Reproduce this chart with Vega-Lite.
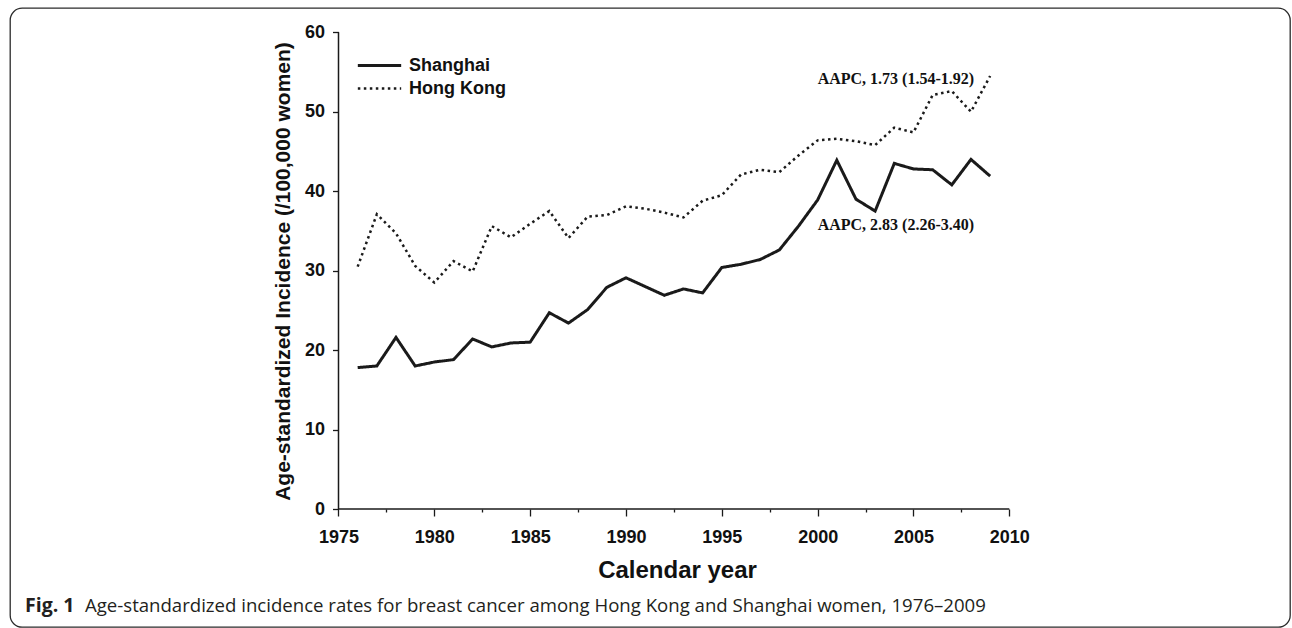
{
  "$schema": "https://vega.github.io/schema/vega-lite/v6.json",
  "width": 1280,
  "height": 619,
  "autosize": {"type": "none"},
  "padding": {"left": 10, "top": 8, "right": 2, "bottom": 1},
  "background": "white",
  "config": {
    "view": {"stroke": "#2b2b2b", "strokeWidth": 1.3, "cornerRadius": 12},
    "font": "Liberation Sans"
  },
  "datasets": {
    "rates": [
      {"year": 1976, "Shanghai": 17.8, "Hong Kong": 30.5},
      {"year": 1977, "Shanghai": 18.0, "Hong Kong": 37.1},
      {"year": 1978, "Shanghai": 21.6, "Hong Kong": 34.7},
      {"year": 1979, "Shanghai": 18.0, "Hong Kong": 30.6},
      {"year": 1980, "Shanghai": 18.5, "Hong Kong": 28.5},
      {"year": 1981, "Shanghai": 18.8, "Hong Kong": 31.2},
      {"year": 1982, "Shanghai": 21.4, "Hong Kong": 29.9},
      {"year": 1983, "Shanghai": 20.4, "Hong Kong": 35.6},
      {"year": 1984, "Shanghai": 20.9, "Hong Kong": 34.2},
      {"year": 1985, "Shanghai": 21.0, "Hong Kong": 35.9},
      {"year": 1986, "Shanghai": 24.7, "Hong Kong": 37.5},
      {"year": 1987, "Shanghai": 23.4, "Hong Kong": 34.1},
      {"year": 1988, "Shanghai": 25.1, "Hong Kong": 36.8},
      {"year": 1989, "Shanghai": 27.9, "Hong Kong": 37.0},
      {"year": 1990, "Shanghai": 29.1, "Hong Kong": 38.1},
      {"year": 1991, "Shanghai": 28.0, "Hong Kong": 37.8},
      {"year": 1992, "Shanghai": 26.9, "Hong Kong": 37.3},
      {"year": 1993, "Shanghai": 27.7, "Hong Kong": 36.7},
      {"year": 1994, "Shanghai": 27.2, "Hong Kong": 38.8},
      {"year": 1995, "Shanghai": 30.4, "Hong Kong": 39.5},
      {"year": 1996, "Shanghai": 30.8, "Hong Kong": 42.1},
      {"year": 1997, "Shanghai": 31.4, "Hong Kong": 42.7},
      {"year": 1998, "Shanghai": 32.6, "Hong Kong": 42.4},
      {"year": 1999, "Shanghai": 35.6, "Hong Kong": 44.5},
      {"year": 2000, "Shanghai": 38.9, "Hong Kong": 46.4},
      {"year": 2001, "Shanghai": 43.9, "Hong Kong": 46.6},
      {"year": 2002, "Shanghai": 39.0, "Hong Kong": 46.3},
      {"year": 2003, "Shanghai": 37.5, "Hong Kong": 45.8},
      {"year": 2004, "Shanghai": 43.5, "Hong Kong": 48.0},
      {"year": 2005, "Shanghai": 42.8, "Hong Kong": 47.4},
      {"year": 2006, "Shanghai": 42.7, "Hong Kong": 52.1},
      {"year": 2007, "Shanghai": 40.8, "Hong Kong": 52.6},
      {"year": 2008, "Shanghai": 44.0, "Hong Kong": 50.0},
      {"year": 2009, "Shanghai": 41.9, "Hong Kong": 54.5}
    ]
  },
  "layer": [
    {
      "data": {"name": "rates"},
      "transform": [{"fold": ["Shanghai", "Hong Kong"], "as": ["city", "rate"]}],
      "mark": {"type": "line", "color": "#1a1a1a", "strokeJoin": "miter"},
      "encoding": {
        "x": {
          "field": "year",
          "type": "quantitative",
          "scale": {"domain": [1957.86, 2024.646], "nice": false, "zero": false},
          "axis": {
            "orient": "bottom",
            "offset": -118,
            "domain": false,
            "grid": false,
            "values": [1975, 1977.5, 1980, 1982.5, 1985, 1987.5, 1990, 1992.5, 1995, 1997.5, 2000, 2002.5, 2005, 2007.5, 2010],
            "format": "d",
            "labelExpr": "datum.value % 5 === 0 ? datum.label : ''",
            "tickSize": {"condition": {"test": "datum.value % 5 === 0", "value": 7}, "value": 3},
            "tickColor": "#1a1a1a",
            "tickWidth": 1.3,
            "labelFont": "Liberation Sans",
            "labelFontSize": 18,
            "labelFontWeight": "bold",
            "labelColor": "#111111",
            "labelPadding": 12,
            "labelFlush": false,
            "labelOverlap": false,
            "labelBound": false,
            "title": "Calendar year",
            "titleFont": "Liberation Sans",
            "titleFontSize": 24,
            "titleFontWeight": "bold",
            "titleColor": "#111111",
            "titleX": 667,
            "titleY": 68,
            "titleAlign": "center",
            "titleBaseline": "alphabetic"
          }
        },
        "y": {
          "field": "rate",
          "type": "quantitative",
          "scale": {"domain": [-14.852, 63.059], "nice": false, "zero": false},
          "axis": {
            "orient": "left",
            "offset": -328.5,
            "domain": false,
            "grid": false,
            "values": [0, 10, 20, 30, 40, 50, 60],
            "tickSize": 6,
            "tickColor": "#1a1a1a",
            "tickWidth": 1.3,
            "labelFont": "Liberation Sans",
            "labelFontSize": 18,
            "labelFontWeight": "bold",
            "labelColor": "#111111",
            "labelPadding": 8,
            "labelOverlap": false,
            "labelBound": false,
            "title": "Age-standardized Incidence (/100,000 women)",
            "titleFont": "Liberation Sans",
            "titleFontSize": 21,
            "titleFontWeight": "bold",
            "titleColor": "#111111",
            "titleX": -49.5,
            "titleY": 263,
            "titleAngle": 270,
            "titleAlign": "center",
            "titleBaseline": "alphabetic"
          }
        },
        "strokeDash": {
          "field": "city",
          "type": "nominal",
          "scale": {"domain": ["Shanghai", "Hong Kong"], "range": [[1, 0], [2.5, 3.5]]},
          "legend": {
            "title": null,
            "orient": "none",
            "legendX": 357,
            "legendY": 45,
            "padding": 0,
            "symbolType": "M-2,0H2",
            "symbolSize": 470,
            "symbolStrokeColor": "#1a1a1a",
            "symbolStrokeWidth": 2.5,
            "labelFont": "Liberation Sans",
            "labelFontSize": 18,
            "labelFontWeight": "bold",
            "labelColor": "#111111",
            "labelOffset": 17,
            "rowPadding": 1
          }
        },
        "strokeWidth": {
          "field": "city",
          "type": "nominal",
          "scale": {"domain": ["Shanghai", "Hong Kong"], "range": [3, 2.5]},
          "legend": null
        }
      }
    },
    {
      "data": {"values": [{}]},
      "mark": {"type": "rule", "color": "#1a1a1a", "strokeWidth": 1.5},
      "encoding": {
        "x": {"datum": 1975, "type": "quantitative"},
        "x2": {"datum": 2010},
        "y": {"datum": 0, "type": "quantitative"}
      }
    },
    {
      "data": {"values": [{}]},
      "mark": {"type": "rule", "color": "#1a1a1a", "strokeWidth": 1.5},
      "encoding": {
        "x": {"datum": 1975, "type": "quantitative"},
        "y": {"datum": 0, "type": "quantitative"},
        "y2": {"datum": 60}
      }
    },
    {
      "data": {"values": [{"label": "AAPC, 1.73 (1.54-1.92)", "yr": 2000, "at": 53.46}, {"label": "AAPC, 2.83 (2.26-3.40)", "yr": 2000, "at": 35.12}]},
      "mark": {"type": "text", "font": "Liberation Serif", "fontWeight": "bold", "fontSize": 16, "align": "left", "baseline": "alphabetic", "color": "#111111"},
      "encoding": {
        "x": {"field": "yr", "type": "quantitative"},
        "y": {"field": "at", "type": "quantitative"},
        "text": {"field": "label"}
      }
    },
    {
      "data": {"values": [{}]},
      "mark": {"type": "text", "font": "Open Sans", "fontWeight": "bold", "fontSize": 19.5, "align": "left", "baseline": "alphabetic", "color": "#231f20"},
      "encoding": {
        "x": {"datum": 1958.643, "type": "quantitative"},
        "y": {"datum": -13.0, "type": "quantitative"},
        "text": {"value": "Fig. 1"}
      }
    },
    {
      "data": {"values": [{}]},
      "mark": {"type": "text", "font": "Open Sans", "fontSize": 18.6, "align": "left", "baseline": "alphabetic", "color": "#231f20"},
      "encoding": {
        "x": {"datum": 1961.773, "type": "quantitative"},
        "y": {"datum": -13.0, "type": "quantitative"},
        "text": {"value": "Age-standardized incidence rates for breast cancer among Hong Kong and Shanghai women, 1976–2009"}
      }
    }
  ]
}
